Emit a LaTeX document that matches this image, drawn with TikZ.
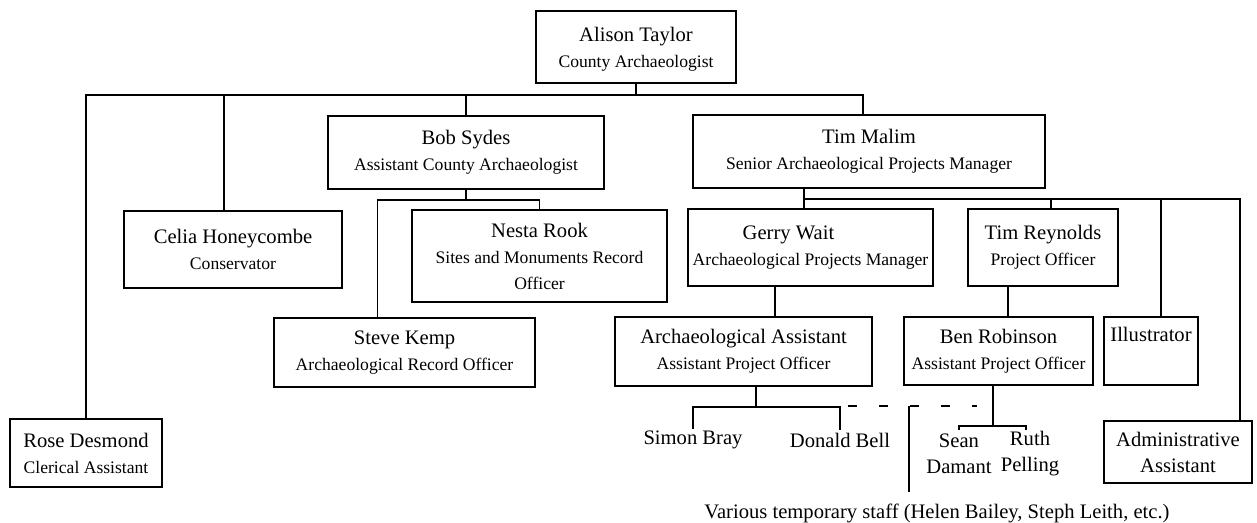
\documentclass[tikz,border=0pt]{standalone}
\usepackage{fontspec}
\setmainfont{Liberation Serif}
\newcommand{\nmf}{\fontsize{10.3}{13}\selectfont}
\newcommand{\sbf}{\fontsize{8.8}{13}\selectfont}
\begin{document}
\begin{tikzpicture}[x=0.5pt,y=-0.5pt,
  box/.style={draw, line width=1pt, inner sep=0pt, align=center, font=\nmf},
  sz/.style 2 args={minimum width=#1*0.5pt, minimum height=#2*0.5pt},
  conn/.style={line width=0.8pt},
  lbl/.style={inner sep=1pt, align=center, font=\nmf}]
\useasboundingbox (0,0) rectangle (1257,523);

% boxes
\node[box, sz={200}{72}] (alison) at (636,47) {\rule{0pt}{9pt}Alison Taylor\\{\sbf County Archaeologist}};
\node[box, sz={276}{73}] (bob) at (466,152.5) {Bob Sydes\\{\sbf Assistant County Archaeologist}};
\node[box, sz={352}{73}] (tim) at (869,151.5) {Tim Malim\\{\sbf Senior Archaeological Projects Manager}};
\node[box, sz={218}{77}] (celia) at (233,249.5) {Celia Honeycombe\\{\sbf Conservator}};
\node[box, sz={255}{92}] (nesta) at (539.5,256) {Nesta Rook\\{\sbf Sites and Monuments Record}\\{\sbf Officer}};
\node[box, sz={245}{77}] (gerry) at (810.5,247.5) {Gerry Wait\hspace*{22pt}\\{\sbf Archaeological Projects Manager}};
\node[box, sz={150}{77}] (treyn) at (1043,247.5) {Tim Reynolds\\{\sbf Project Officer}};
\node[box, sz={261}{69}] (steve) at (404.5,352.5) {Steve Kemp\\{\sbf Archaeological Record Officer}};
\node[box, sz={257}{69}] (aa) at (743.5,351.5) {Archaeological Assistant\\{\sbf Assistant Project Officer}};
\node[box, sz={189}{68}] (ben) at (998.5,351) {Ben Robinson\\{\sbf Assistant Project Officer}};
\node[box, sz={94}{68}] (illus) at (1151,351) {Illustrator\\{\sbf\strut}};
\node[box, sz={152}{68}] (rose) at (86,453) {Rose Desmond\\{\sbf Clerical Assistant}};
\node[box, sz={148}{62}] (admin) at (1178,452) {Administrative\\Assistant};

% plain labels
\node[lbl] (simon) at (693,440) {Simon Bray};
\node[lbl] (donald) at (840,440) {Donald Bell};
\node[lbl] (sean) at (959,454) {Sean\\Damant};
\node[lbl] (ruth) at (1030,454) {Ruth\\Pelling};
\node[lbl, inner sep=3pt] (various) at (937,513) {Various temporary staff (Helen Bailey, Steph Leith, etc.)};

% helper coordinates
\coordinate (busL) at (85,95);
\coordinate (busR) at (863,95);
\coordinate (bobbar) at (0,200);
\coordinate (timbar) at (0,199);
\coordinate (aabar) at (0,407);
\coordinate (benbar) at (0,426);
\coordinate (dL) at (848,406);
\coordinate (dR) at (977,406);
\coordinate (vt) at (909,406);

% top level
\draw[conn] (alison.south) -- (alison.south |- busL);
\draw[conn] (rose.north) -- (rose.north |- busL) -- (busR) -- (busR |- tim.north);
\draw[conn] ([xshift=-4.5pt]celia.north) -- ([xshift=-4.5pt]celia.north |- busL);
\draw[conn] (bob.north) -- (bob.north |- busL);

% Bob's staff
\draw[conn] (bob.south) -- (bob.south |- bobbar);
\draw[conn] ([xshift=-13.5pt]steve.north) -- ([xshift=-13.5pt]steve.north |- bobbar) -- (nesta.north |- bobbar) -- (nesta.north);

% Tim's staff
\coordinate (tj) at ([xshift=-32.5pt]tim.south |- timbar);
\coordinate (adx) at ([xshift=31pt]admin.north);
\draw[conn] ([xshift=-32.5pt]tim.south) -- ([xshift=-32.5pt]tim.south |- gerry.north);
\draw[conn] (tj) -- (adx |- timbar) -- (adx);
\draw[conn] ([xshift=4pt]treyn.north |- timbar) -- ([xshift=4pt]treyn.north);
\draw[conn] ([xshift=5pt]illus.north |- timbar) -- ([xshift=5pt]illus.north);

% Gerry and Tim Reynolds
\draw[conn] ([xshift=-17.75pt]gerry.south) -- ([xshift=-17.75pt]gerry.south |- aa.north);
\draw[conn] ([xshift=-17.5pt]treyn.south) -- ([xshift=-17.5pt]treyn.south |- ben.north);

% Archaeological Assistant's staff
\draw[conn] ([xshift=6.25pt]aa.south) -- ([xshift=6.25pt]aa.south |- aabar);
\draw[conn] (simon.north) -- (simon.north |- aabar) -- (donald.north |- aabar) -- (donald.north);

% dashed link and temporary staff
\draw[conn, dash pattern=on 4.5pt off 11pt] (dL) -- (dR);
\draw[conn] (vt) -- ([yshift=2.5pt]vt |- various.north);

% Ben's staff
\draw[conn] ([xshift=-2.75pt]ben.south) -- ([xshift=-2.75pt]ben.south |- benbar);
\draw[conn] ([yshift=-2pt]sean.north |- benbar) -- (sean.north |- benbar) -- ([xshift=-2pt]ruth.north |- benbar) -- ([yshift=-2pt,xshift=-2pt]ruth.north |- benbar);
\end{tikzpicture}
\end{document}
